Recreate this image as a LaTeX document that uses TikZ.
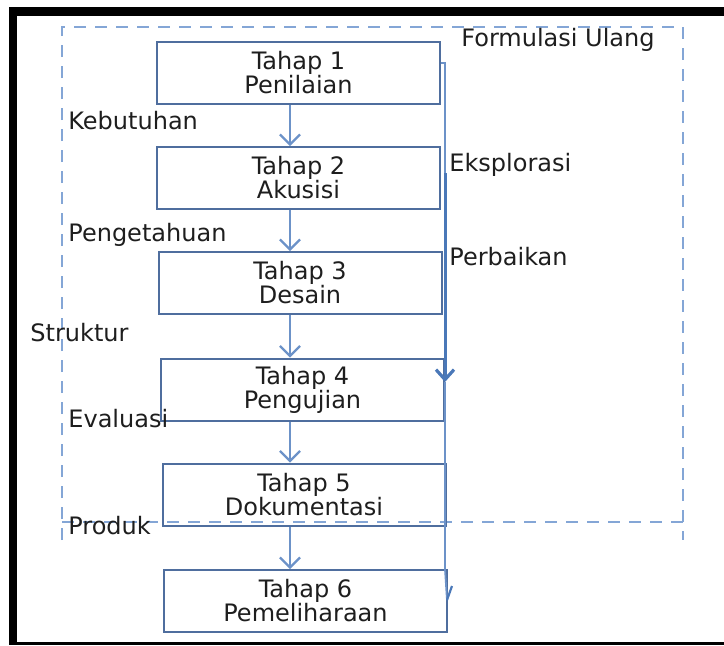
\documentclass[tikz,border=0pt]{standalone}
\usepackage{fontspec}
\setmainfont{DejaVu Sans}
\usepackage{tikz}
\usetikzlibrary{arrows.meta}
\definecolor{boxblue}{RGB}{79,110,158}
\definecolor{arrblue}{RGB}{108,146,200}
\definecolor{dashblue}{RGB}{132,166,214}
\definecolor{loopblue}{RGB}{74,120,184}
\definecolor{txt}{RGB}{30,30,30}

\begin{document}
\begin{tikzpicture}[x=0.5pt,y=-0.5pt,
  tahap/.style={draw=boxblue,line width=1pt,minimum width=141.5pt,minimum height=31pt,
    inner sep=0pt,align=center,text=txt,font=\fontsize{12}{12}\selectfont},
  lbl/.style={anchor=base west,inner sep=0pt,text=txt,font=\fontsize{12}{12}\selectfont},
  turun/.style={draw=arrblue,line width=0.9pt,-{Straight Barb[length=5pt,width=10pt,line width=1.1pt]}},
  batas/.style={dashblue,line width=1pt,dash pattern=on 6pt off 4.5pt}]
\useasboundingbox (0,0) rectangle (724,645);

% frame
\fill[black] (9,7) rectangle (724,16);
\fill[black] (9,7) rectangle (17,645);
\fill[black] (9,642) rectangle (724,645);

% dashed area
\draw[batas] (62,540) -- (62,27) -- (683,27) -- (683,540);
\draw[batas] (62,522) -- (683,522);

% stages
\node[tahap] (t1) at (298.5,73) {Tahap 1\\Penilaian};
\node[tahap] (t2) at (298.5,178) {Tahap 2\\Akusisi};
\node[tahap] (t3) at (300,283) {Tahap 3\\Desain};
\node[tahap] (t4) at (302.5,389.5) {Tahap 4\\Pengujian};
\node[tahap] (t5) at (304,494.5) {Tahap 5\\Dokumentasi};
\node[tahap] (t6) at (305.5,601) {Tahap 6\\Pemeliharaan};

\coordinate (ax) at (290,0);
\draw[turun] (t1.south -| ax) -- (t2.north -| ax);
\draw[turun] (t2.south -| ax) -- (t3.north -| ax);
\draw[turun] (t3.south -| ax) -- (t4.north -| ax);
\draw[turun] (t4.south -| ax) -- (t5.north -| ax);
\draw[turun] (t5.south -| ax) -- (t6.north -| ax);

% feedback line on the right
\coordinate (r1) at (445,63);
\coordinate (r2) at (445,173);
\coordinate (r3) at (445,382);
\coordinate (r4) at (447,600);
\draw[arrblue,line width=0.9pt] (t1.east |- r1) -- (r1) -- (r2);
\draw[loopblue,line width=1.5pt,-{Straight Barb[length=5pt,width=9pt,line width=1.6pt]}] (r2) -- (r3);
\draw[arrblue,line width=0.9pt] (r3) -- (445,569) -- (r4);
\draw[loopblue,line width=1.1pt] (r4) -- (452,586);

% labels
\node[lbl] (fu) at (461,46) {Formulasi Ulang};
\node[lbl] (kb) at (68,129) {Kebutuhan};
\node[lbl] (ek) at (449,171) {Eksplorasi};
\node[lbl] (pg) at (68,241) {Pengetahuan};
\node[lbl] (pb) at (449,265) {Perbaikan};
\node[lbl] (st) at (30,341) {Struktur};
\node[lbl] (ev) at (68,427) {Evaluasi};
\node[lbl] (pr) at (68,534) {Produk};
\end{tikzpicture}
\end{document}
